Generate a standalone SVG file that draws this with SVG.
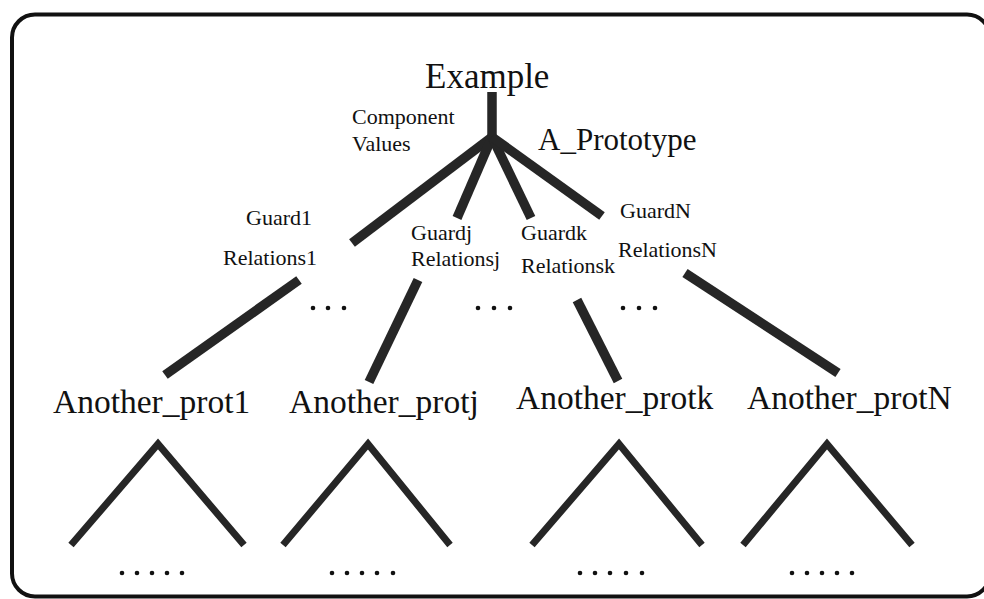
<svg xmlns="http://www.w3.org/2000/svg" width="984" height="599" viewBox="0 0 984 599">
<style>
.big{font-family:"Liberation Serif","Times New Roman",serif;font-size:33.5px;fill:#111}
.ex{font-family:"Liberation Serif","Times New Roman",serif;font-size:35px;fill:#111}
.mid{font-family:"Liberation Serif","Times New Roman",serif;font-size:31px;fill:#111}
.sm{font-family:"Liberation Serif","Times New Roman",serif;font-size:22px;fill:#111}
.edge{stroke:#262626;stroke-width:9.5;fill:none;stroke-linecap:butt}
.tri{stroke:#262626;stroke-width:7;fill:none;stroke-linecap:butt;stroke-linejoin:miter}
.dot{fill:#111}
</style>
<rect x="12" y="14.5" width="978" height="582" rx="23" ry="23" fill="#fff" stroke="#111" stroke-width="4"/>
<g id="connectors">
<line class="edge" x1="492" y1="92" x2="492" y2="140"/>
<line class="edge" x1="492" y1="137" x2="352" y2="243"/>
<line class="edge" x1="492" y1="137" x2="457" y2="218"/>
<line class="edge" x1="492" y1="137" x2="531" y2="218"/>
<line class="edge" x1="492" y1="137" x2="602" y2="216"/>
<line class="edge" x1="299" y1="280" x2="165" y2="375"/>
<line class="edge" x1="418" y1="280" x2="369" y2="382"/>
<line class="edge" x1="577" y1="300" x2="618" y2="381"/>
<line class="edge" x1="685" y1="273" x2="838" y2="373"/>
</g>
<g id="node-example"><text class="ex" x="425" y="88">Example</text></g>
<g id="label-component"><text class="sm" x="352" y="124">Component</text><text class="sm" x="352" y="151">Values</text></g>
<g id="label-prototype"><text class="mid" x="538" y="150">A_Prototype</text></g>
<g id="label-1"><text class="sm" x="246" y="225">Guard1</text><text class="sm" x="223" y="265">Relations1</text></g>
<g id="label-j"><text class="sm" x="411" y="240">Guardj</text><text class="sm" x="411" y="266">Relationsj</text></g>
<g id="label-k"><text class="sm" x="521" y="240">Guardk</text><text class="sm" x="521" y="273">Relationsk</text></g>
<g id="label-N"><text class="sm" x="620" y="218">GuardN</text><text class="sm" x="618" y="257">RelationsN</text></g>
<g id="dots-mid">
<circle class="dot" cx="313" cy="308" r="2.3"/><circle class="dot" cx="328" cy="308" r="2.3"/><circle class="dot" cx="344" cy="308" r="2.3"/>
<circle class="dot" cx="478" cy="308" r="2.3"/><circle class="dot" cx="494" cy="308" r="2.3"/><circle class="dot" cx="510" cy="308" r="2.3"/>
<circle class="dot" cx="623" cy="308" r="2.3"/><circle class="dot" cx="639" cy="308" r="2.3"/><circle class="dot" cx="655" cy="308" r="2.3"/>
</g>
<g id="node-prot1"><text class="big" x="53" y="413">Another_prot1</text>
<polyline class="tri" points="71,545 158,444 244,545"/>
<circle class="dot" cx="122" cy="573" r="2.3"/><circle class="dot" cx="137" cy="573" r="2.3"/><circle class="dot" cx="152" cy="573" r="2.3"/><circle class="dot" cx="167" cy="573" r="2.3"/><circle class="dot" cx="182" cy="573" r="2.3"/></g>
<g id="node-protj"><text class="big" x="289" y="413">Another_protj</text>
<polyline class="tri" points="283,545 368,444 450,545"/>
<circle class="dot" cx="332" cy="573" r="2.3"/><circle class="dot" cx="347" cy="573" r="2.3"/><circle class="dot" cx="362" cy="573" r="2.3"/><circle class="dot" cx="377" cy="573" r="2.3"/><circle class="dot" cx="393" cy="573" r="2.3"/></g>
<g id="node-protk"><text class="big" x="516" y="409">Another_protk</text>
<polyline class="tri" points="532,545 619,444 702,545"/>
<circle class="dot" cx="580" cy="573" r="2.3"/><circle class="dot" cx="595" cy="573" r="2.3"/><circle class="dot" cx="610" cy="573" r="2.3"/><circle class="dot" cx="626" cy="573" r="2.3"/><circle class="dot" cx="642" cy="573" r="2.3"/></g>
<g id="node-protN"><text class="big" x="747" y="409">Another_protN</text>
<polyline class="tri" points="743,545 827,444 912,545"/>
<circle class="dot" cx="792" cy="573" r="2.3"/><circle class="dot" cx="807" cy="573" r="2.3"/><circle class="dot" cx="822" cy="573" r="2.3"/><circle class="dot" cx="837" cy="573" r="2.3"/><circle class="dot" cx="852" cy="573" r="2.3"/></g>
</svg>
